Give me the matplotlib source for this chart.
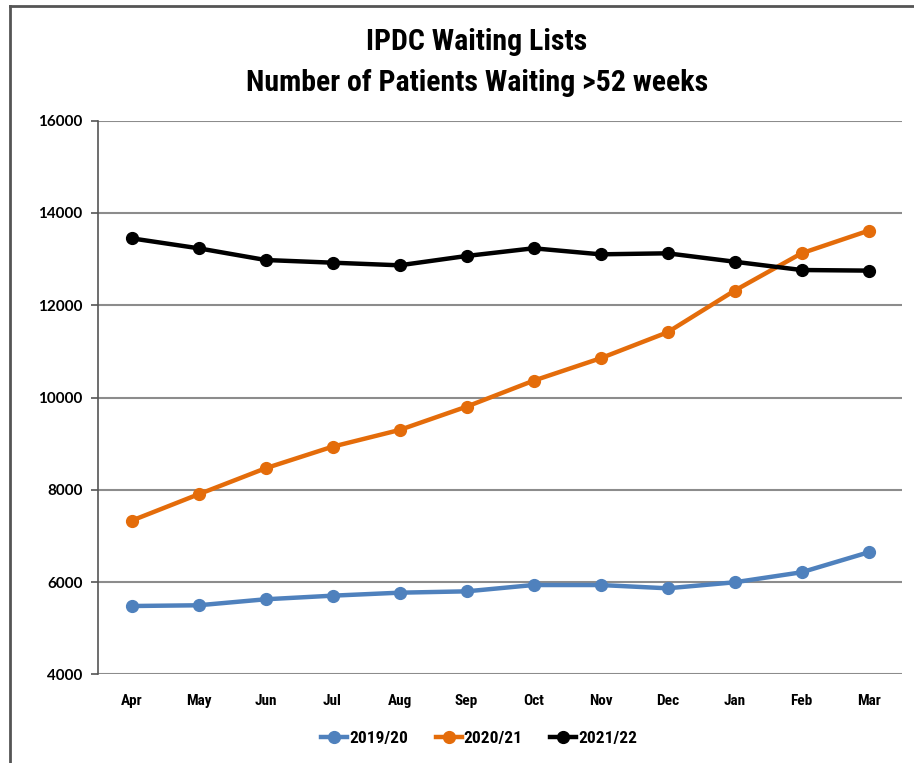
import matplotlib
matplotlib.use("Agg")
import matplotlib.pyplot as plt
from matplotlib.lines import Line2D

months = ["Apr", "May", "Jun", "Jul", "Aug", "Sep", "Oct", "Nov", "Dec", "Jan", "Feb", "Mar"]
y2019 = [5482, 5498, 5628, 5706, 5771, 5800, 5937, 5937, 5866, 5996, 6213, 6646]
y2020 = [7331, 7903, 8467, 8935, 9297, 9802, 10365, 10851, 11414, 12316, 13126, 13616]
y2021 = [13451, 13235, 12981, 12923, 12866, 13068, 13235, 13104, 13126, 12944, 12764, 12751]
yticks = [4000, 6000, 8000, 10000, 12000, 14000, 16000]

narrow = ["Liberation Sans Narrow", "Roboto Condensed", "DejaVu Sans"]

fig = plt.figure(figsize=(9.14, 7.63), dpi=100)
ax = fig.add_axes([98 / 914, 1 - 674.4 / 763, (902 - 98) / 914, (674.4 - 120.7) / 763])

x = range(len(months))
ax.plot(x, y2019, color="#4F81BD", lw=3.2, marker="o", ms=8.5, label="2019/20")
ax.plot(x, y2020, color="#E46C0A", lw=3.2, marker="o", ms=8.5, label="2020/21")
ax.plot(x, y2021, color="#000000", lw=3.2, marker="o", ms=8.5, label="2021/22")

ax.set_xlim(-0.5, len(months) - 0.5)
ax.set_ylim(4000, 16000)
ax.set_yticks(yticks)
ax.set_xticks(list(x))
ax.set_xticklabels(months, family=narrow, fontweight="bold", fontsize=11)
for lab in ax.get_yticklabels():
    lab.set_family(["Lato", "DejaVu Sans"])
    lab.set_fontsize(11)
    lab.set_fontweight("bold")
ax.yaxis.grid(True, color="#8c8c8c", lw=1.5)
ax.set_axisbelow(True)
for s in ["top", "right", "bottom"]:
    ax.spines[s].set_visible(False)
ax.spines["left"].set_color("#555555")
ax.spines["left"].set_linewidth(1.2)
ax.tick_params(axis="x", length=0, pad=14)
ax.tick_params(axis="y", length=5, color="#555555", width=1.2, pad=6)

fig.text(477 / 914, 1 - 42 / 763, "IPDC Waiting Lists", ha="center", va="center",
         family=narrow, fontweight="bold", fontsize=21.5)
fig.text(477 / 914, 1 - 83 / 763, "Number of Patients Waiting >52 weeks", ha="center", va="center",
         family=narrow, fontweight="bold", fontsize=21.5)

fig.legend(loc="center", bbox_to_anchor=(479 / 914, 1 - 738 / 763), ncol=3, frameon=False,
           prop={"family": narrow, "weight": "bold", "size": 12.5}, handlelength=1.5,
           handletextpad=0.1, columnspacing=1.6)

# frame around the chart area (top and left edges visible in the screenshot)
fig.add_artist(Line2D([10 / 914, 1], [1 - 6 / 763, 1 - 6 / 763], color="#555555", lw=2, transform=fig.transFigure))
fig.add_artist(Line2D([10 / 914, 10 / 914], [0, 1 - 6 / 763], color="#555555", lw=2, transform=fig.transFigure))

fig.savefig("out.png", dpi=100)
